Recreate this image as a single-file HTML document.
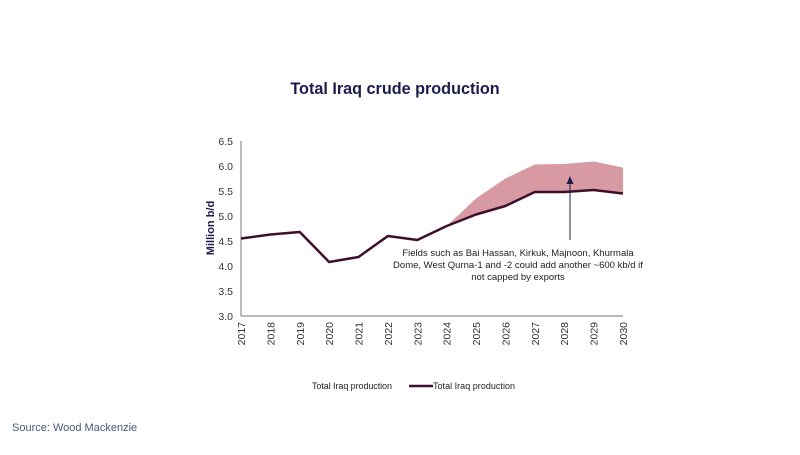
<!DOCTYPE html>
<html><head><meta charset="utf-8"><style>
body{margin:0;background:#fff;width:800px;height:450px;overflow:hidden;font-family:"Liberation Sans",sans-serif}
</style></head><body>
<svg width="800" height="450" viewBox="0 0 800 450" xmlns="http://www.w3.org/2000/svg" font-family="Liberation Sans, sans-serif">
<text x="395" y="94" text-anchor="middle" font-size="16.2" font-weight="bold" fill="#1c1c4e">Total Iraq crude production</text>
<polygon points="446.7,226 476,198.5 505.4,178.5 534.8,164.5 564.2,164 593.6,161.5 623,167.5 623,193.5 593.6,190 564.2,192 534.8,192 505.4,206 476,214.5" fill="#d79aa3"/>
<g stroke="#777" stroke-width="1" fill="none">
<line x1="241" y1="141" x2="241" y2="316"/>
<line x1="241" y1="316" x2="623" y2="316"/>
</g>
<g font-size="10.5" fill="#333" text-anchor="end">
<text x="233" y="145">6.5</text><text x="233" y="170">6.0</text><text x="233" y="195">5.5</text><text x="233" y="220">5.0</text><text x="233" y="245">4.5</text><text x="233" y="270">4.0</text><text x="233" y="295">3.5</text><text x="233" y="320">3.0</text>
</g>
<g font-size="10.5" fill="#333" text-anchor="end">
<text transform="translate(245,322) rotate(-90)">2017</text>
<text transform="translate(274.4,322) rotate(-90)">2018</text>
<text transform="translate(303.8,322) rotate(-90)">2019</text>
<text transform="translate(333.1,322) rotate(-90)">2020</text>
<text transform="translate(362.5,322) rotate(-90)">2021</text>
<text transform="translate(391.9,322) rotate(-90)">2022</text>
<text transform="translate(421.3,322) rotate(-90)">2023</text>
<text transform="translate(450.7,322) rotate(-90)">2024</text>
<text transform="translate(480,322) rotate(-90)">2025</text>
<text transform="translate(509.4,322) rotate(-90)">2026</text>
<text transform="translate(538.8,322) rotate(-90)">2027</text>
<text transform="translate(568.2,322) rotate(-90)">2028</text>
<text transform="translate(597.6,322) rotate(-90)">2029</text>
<text transform="translate(627,322) rotate(-90)">2030</text>
</g>
<text transform="translate(214,228) rotate(-90)" text-anchor="middle" font-size="11" font-weight="bold" fill="#1c1c4e">Million b/d</text>
<polyline points="241,238.5 270.4,234.5 299.8,232 329.1,262 358.5,257 387.9,236 417.3,240 446.7,226 476,214.5 505.4,206 534.8,192 564.2,192 593.6,190 623,193.5" fill="none" stroke="#3d0f2a" stroke-width="2.5" stroke-linejoin="round"/>
<line x1="570" y1="240" x2="570" y2="183" stroke="#1c1c4e" stroke-width="1"/>
<polygon points="570,176 566.5,184 573.5,184" fill="#1c1c4e"/>
<g font-size="9.5" fill="#222" text-anchor="middle">
<text x="518" y="256">Fields such as Bai Hassan, Kirkuk, Majnoon, Khurmala</text>
<text x="518" y="268">Dome, West Qurna-1 and -2 could add another ~600 kb/d if</text>
<text x="518" y="280">not capped by exports</text>
</g>
<g font-size="9" fill="#222">
<text x="312" y="389" textLength="80">Total Iraq production</text>
<line x1="409" y1="386" x2="433" y2="386" stroke="#3d0f2a" stroke-width="2.5"/>
<text x="433" y="389" textLength="82">Total Iraq production</text>
</g>
<text x="12" y="431" font-size="11" fill="#4a5a7a">Source: Wood Mackenzie</text>
</svg>
</body></html>
